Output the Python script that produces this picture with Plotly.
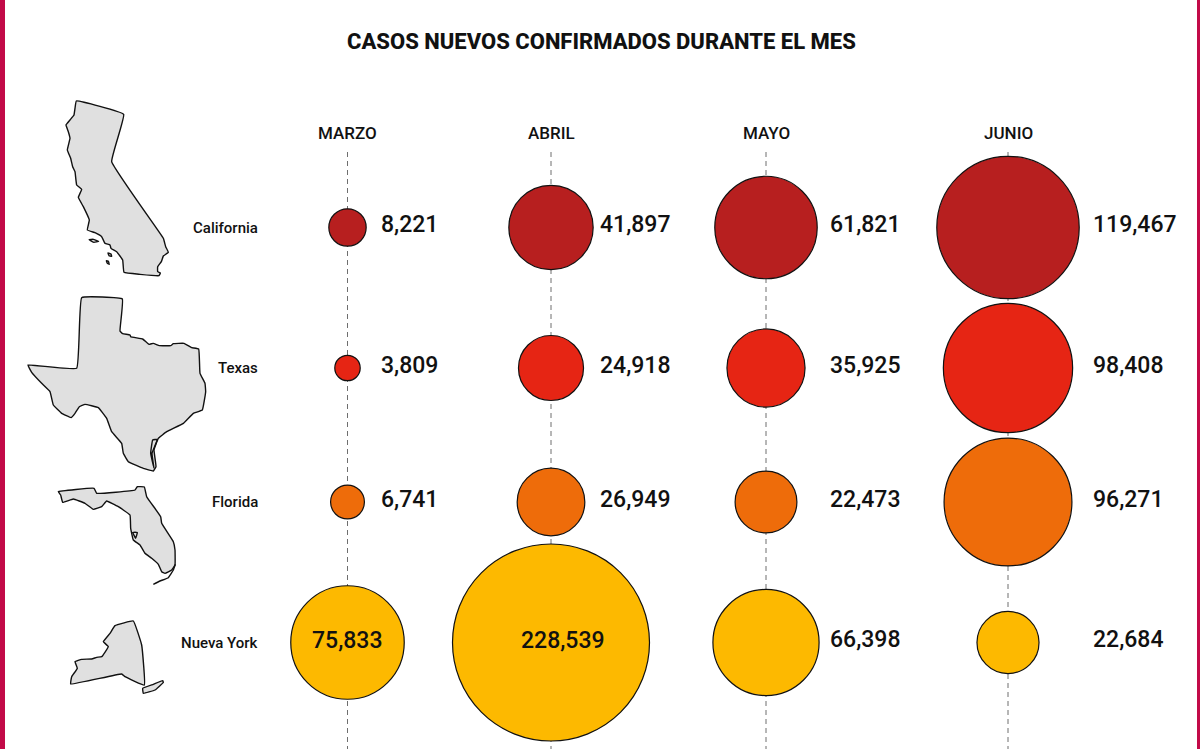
import plotly.graph_objects as go

title = "CASOS NUEVOS CONFIRMADOS DURANTE EL MES"
months = ["MARZO", "ABRIL", "MAYO", "JUNIO"]
states = ["California", "Texas", "Florida", "Nueva York"]
california = [8221, 41897, 61821, 119467]
texas = [3809, 24918, 35925, 98408]
florida = [6741, 26949, 22473, 96271]
nueva_york = [75833, 228539, 66398, 22684]
series = [california, texas, florida, nueva_york]

colors = ["#B71F1F", "#E62514", "#EE6C0A", "#FDB900"]
col_x = [347.5, 551, 766, 1008]
row_y = [227.5, 368, 502, 642.5]
label_x = [379, 598, 828, 1091]
MAX_D = 197
FONT = "Roboto"

def pts(offset, raw):
    ox, oy = offset
    return [ox + p[0] / 3 for p in raw], [oy + p[1] / 3 for p in raw]

ca_outline = [(229,33),(371,73),(335,215),(490,445),(497,470),(505,487),(490,498),(484,515),(473,530),(473,545),(481,549),(477,557),(420,553),(372,547),(368,510),(350,485),(333,475),(330,465),(315,460),(305,440),(285,428),(262,420),(268,390),(250,350),(235,322),(245,298),(230,285),(225,245),(218,230),(212,205),(202,180),(210,145),(205,125),(198,105),(210,90),(222,75),(225,55),(229,33)]
ca_isle1 = [(267,449),(280,448),(296,454),(282,457),(267,449)]
ca_isle2 = [(324,489),(333,492),(335,499),(327,497),(324,489)]
ca_isle3 = [(319,512),(325,514),(328,523),(322,520),(319,512)]
tx_outline = [(245,38),(367,42),(360,138),(368,146),(390,150),(392,155),(428,162),(447,178),(460,175),(478,182),(512,182),(520,176),(552,175),(575,188),(596,192),(600,265),(615,295),(617,320),(607,375),(580,385),(550,415),(500,440),(475,460),(462,495),(468,545),(460,558),(430,550),(385,530),(370,505),(365,475),(335,440),(320,400),(295,368),(255,358),(238,365),(225,385),(213,398),(185,385),(160,360),(150,320),(125,295),(95,262),(84,240),(230,250),(245,38)]
tx_coast = [(458,465),(472,463),(456,505),(462,550),(452,505),(458,465)]
fl_outline = [(55,50),(162,40),(170,55),(285,45),(292,35),(313,36),(320,65),(362,125),(365,145),(400,200),(405,225),(405,270),(395,285),(375,295),(365,290),(355,268),(335,250),(315,235),(300,210),(280,195),(272,160),(270,120),(235,95),(200,78),(185,95),(160,103),(135,85),(100,72),(68,82),(62,60),(55,50)]
fl_keys = [(340,328),(360,318),(385,308),(400,285),(406,268)]
fl_lake = [(278,172),(292,172),(287,190),(278,172)]
ny_outline = [(280,438),(305,510),(313,630),(255,605),(245,597),(92,627),(95,605),(112,580),(105,560),(125,553),(155,552),(170,547),(185,545),(205,515),(190,500),(210,475),(225,452),(280,438)]
ny_island = [(308,640),(340,628),(368,617),(370,622),(345,645),(310,655),(308,640)]

fig = go.Figure()

for cx in col_x:
    fig.add_trace(go.Scatter(x=[cx, cx], y=[152, 749], mode="lines",
                             line=dict(color="#6E6E6E", width=1, dash="5px,4px"),
                             hoverinfo="skip"))

for offset, raw, fill in [
    ((0, 90), ca_outline, True), ((0, 90), ca_isle1, True), ((0, 90), ca_isle2, True), ((0, 90), ca_isle3, True),
    ((0, 285), tx_outline, True), ((0, 285), tx_coast, False),
    ((40, 475), fl_outline, True), ((40, 475), fl_keys, False), ((40, 475), fl_lake, False),
    ((40, 475), ny_outline, True), ((40, 475), ny_island, True),
]:
    xs, ys = pts(offset, raw)
    fig.add_trace(go.Scatter(x=xs, y=ys, mode="lines",
                             line=dict(color="#111111", width=1.4, shape="spline", smoothing=0.25),
                             fill="toself" if fill else "none", fillcolor="#E0E0E0", hoverinfo="skip"))

peak = max(max(s) for s in series)
sizeref = 2 * peak / MAX_D ** 2
for r, vals in enumerate(series):
    fig.add_trace(go.Scatter(
        x=col_x, y=[row_y[r]] * 4, mode="markers", customdata=vals,
        marker=dict(size=vals, sizemode="area", sizeref=sizeref, color=colors[r],
                    line=dict(color="#111111", width=1.2), opacity=1),
        hovertemplate="%{customdata:,}<extra></extra>"))

def note(x, y, text, size, anchor="left", weight=500):
    fig.add_annotation(x=x, y=y, text=text, showarrow=False, xanchor=anchor, yanchor="middle",
                       font=dict(family=FONT, size=size, color="#111111", weight=weight))

note(601, 41, title, 22, "center", 800)
for m, cx in zip(months, col_x):
    note(cx, 133, m, 17, "center", 500)
for s, ry in zip(states, row_y):
    note(260, ry, s, 15, "right", 500)
for r, vals in enumerate(series):
    for c, v in enumerate(vals):
        txt = f"{v:,}"
        if r == 3 and c == 0:
            note(347, row_y[r] - 2, txt, 23, "center")
        elif r == 3 and c == 1:
            note(562.5, row_y[r] - 2, txt, 23, "center")
        else:
            note(label_x[c], row_y[r] - 3, txt, 23, "left")

for x0, x1 in [(0, 5), (1197, 1200)]:
    fig.add_shape(type="rect", x0=x0, x1=x1, y0=0, y1=749, fillcolor="#C20A48", line_width=0, layer="above")

fig.update_layout(
    width=1200, height=749, margin=dict(l=0, r=0, t=0, b=0), showlegend=False,
    paper_bgcolor="white", plot_bgcolor="white",
    xaxis=dict(range=[0, 1200], visible=False, fixedrange=True),
    yaxis=dict(range=[749, 0], visible=False, fixedrange=True),
)
fig.write_html("out.html", config={"displayModeBar": False}, post_script="document.body.style.margin='0';")
